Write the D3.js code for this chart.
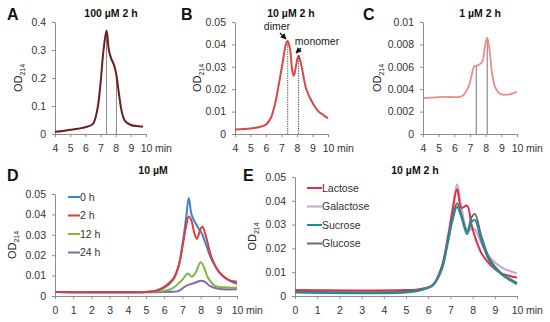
<!DOCTYPE html>
<html>
<head>
<meta charset="utf-8">
<script src="https://cdn.jsdelivr.net/npm/d3@7"></script>
<style>
  body { margin: 0; background: #fff; }
  svg { font-family: "Liberation Sans", Arial, sans-serif; }
  .axis path, .axis line { stroke: #8c8c8c; }
  .axis text { fill: #333; font-size: 10.5px; }
</style>
</head>
<body>
<div id="chart"></div>
<script>
// ---- data ----
var timeA = [4, 4.5, 5, 5.5, 6, 6.5, 6.8, 7.0, 7.2, 7.4, 7.55, 7.7, 7.9, 8.05, 8.2, 8.4, 8.6, 9.0, 9.5, 9.8];
var odA   = [0.008, 0.011, 0.015, 0.019, 0.024, 0.036, 0.09, 0.18, 0.30, 0.37, 0.30, 0.27, 0.245, 0.21, 0.15, 0.08, 0.048, 0.032, 0.028, 0.027];
var markA = [7.4, 8.05];

var timeB = [4, 5, 5.5, 6, 6.3, 6.6, 6.9, 7.1, 7.3, 7.4, 7.55, 7.7, 7.8, 7.95, 8.1, 8.3, 8.6, 9.0, 9.4, 9.7, 10];
var odB   = [0.002, 0.0025, 0.003, 0.0042, 0.007, 0.014, 0.025, 0.033, 0.0405, 0.0415, 0.038, 0.028, 0.026, 0.031, 0.035, 0.030, 0.020, 0.014, 0.010, 0.0085, 0.007];
var markB = [7.4, 8.1];

var timeC = [4, 5, 6, 6.3, 6.6, 6.9, 7.1, 7.25, 7.4, 7.6, 7.8, 7.95, 8.1, 8.25, 8.4, 8.6, 8.9, 9.3, 9.7, 10];
var odC   = [0.0032, 0.0033, 0.0033, 0.0033, 0.0035, 0.0042, 0.0052, 0.0060, 0.0061, 0.0062, 0.0065, 0.0078, 0.0086, 0.0075, 0.0055, 0.0042, 0.0036, 0.0035, 0.0036, 0.0038];
var markC = [7.4, 8.1];

var seriesD = ["0 h", "2 h", "12 h", "24 h"];
var timeD0  = [0, 5, 5.5, 6, 6.5, 6.8, 7.0, 7.2, 7.35, 7.5, 7.7, 7.9, 8.05, 8.3, 8.6, 9.0, 9.5, 10];
var odD0    = [0.002, 0.002, 0.0025, 0.004, 0.008, 0.015, 0.025, 0.038, 0.048, 0.040, 0.036, 0.033, 0.031, 0.025, 0.018, 0.012, 0.008, 0.007];
var timeD2  = [0, 5, 5.5, 6, 6.5, 6.8, 7.0, 7.2, 7.35, 7.5, 7.65, 7.8, 8.0, 8.1, 8.3, 8.6, 9.0, 9.5, 10];
var odD2    = [0.002, 0.002, 0.0025, 0.0045, 0.0085, 0.015, 0.024, 0.034, 0.039, 0.037, 0.031, 0.028, 0.033, 0.034, 0.029, 0.019, 0.012, 0.008, 0.006];
var timeD12 = [0, 5, 6, 6.5, 7.0, 7.3, 7.5, 7.7, 8.0, 8.15, 8.4, 8.8, 9.5, 10];
var odD12   = [0.002, 0.002, 0.0025, 0.004, 0.008, 0.011, 0.0095, 0.011, 0.0165, 0.015, 0.009, 0.005, 0.0042, 0.004];
var timeD24 = [0, 6, 6.8, 7.2, 7.6, 8.0, 8.2, 8.5, 9.0, 10];
var odD24   = [0.002, 0.002, 0.0025, 0.005, 0.0062, 0.0075, 0.0072, 0.005, 0.0035, 0.0033];

var seriesE = ["Lactose", "Galactose", "Sucrose", "Glucose"];
var timeE   = [0, 5, 5.7, 6.2, 6.6, 6.9, 7.1, 7.3, 7.5, 7.75, 7.95, 8.1, 8.4, 8.8, 9.3, 10];
var odLac   = [0.0025, 0.0025, 0.003, 0.0045, 0.012, 0.025, 0.036, 0.045, 0.037, 0.038, 0.030, 0.025, 0.018, 0.013, 0.0095, 0.0078];
var odGal   = [0.0022, 0.0022, 0.003, 0.0045, 0.012, 0.026, 0.037, 0.047, 0.037, 0.028, 0.028, 0.028, 0.022, 0.016, 0.012, 0.0095];
var odSuc   = [0.0015, 0.0015, 0.0025, 0.0045, 0.011, 0.023, 0.032, 0.0375, 0.033, 0.026, 0.031, 0.032, 0.023, 0.014, 0.009, 0.005];
var odGlu   = [0.0018, 0.0018, 0.0027, 0.0045, 0.011, 0.024, 0.033, 0.039, 0.034, 0.027, 0.033, 0.0345, 0.025, 0.015, 0.0095, 0.0055];

var svg = d3.select("#chart").append("svg")
    .attr("width", 550)
    .attr("height", 322);

function zip(xs, ys) {
    return xs.map(function (t, i) { return {t: t, v: ys[i]}; });
}

function panel(o) {
    var x = d3.scaleLinear().domain(o.xd).range(o.xr);
    var y = d3.scaleLinear().domain(o.yd).range(o.yr);

    var xa = svg.append("g").attr("class", "axis")
        .attr("transform", "translate(0," + o.yr[0] + ")")
        .call(d3.axisBottom(x).tickValues(d3.range(o.xd[0], o.xd[1] + 1))
            .tickFormat(d3.format("d")).tickSize(3).tickSizeOuter(0).tickPadding(8));
    xa.append("text").attr("x", o.xr[1] + 9).attr("y", 11).attr("dy", "0.71em")
        .attr("text-anchor", "start").text("min");

    svg.append("g").attr("class", "axis")
        .attr("transform", "translate(" + o.xr[0] + ",0)")
        .call(d3.axisLeft(y).tickValues(o.yt).tickFormat(d3.format("")).tickSize(3).tickSizeOuter(0).tickPadding(6));

    var yl = svg.append("text")
        .attr("transform", "translate(" + o.ylx + "," + ((o.yr[0] + o.yr[1]) / 2) + ") rotate(-90)")
        .attr("text-anchor", "middle")
        .style("font-size", "11px").style("fill", "#222");
    yl.append("tspan").text("OD");
    yl.append("tspan").attr("dy", 3).style("font-size", "7px").text("214");

    svg.append("text").attr("x", o.tx).attr("y", o.ty)
        .attr("text-anchor", "middle")
        .style("font-size", "10.5px").style("font-weight", 700).style("fill", "#111")
        .text(o.title);

    svg.append("text").attr("x", o.lx).attr("y", o.ly)
        .style("font-size", "16px").style("font-weight", 700).style("fill", "#111")
        .text(o.letter);

    return {x: x, y: y};
}

var line = function (sc) {
    return d3.line()
        .x(function (d) { return sc.x(d.t); })
        .y(function (d) { return sc.y(d.v); })
        .curve(d3.curveCatmullRom.alpha(0.5));
};

function markers(sc, ts, xs, ys, dash, color) {
    var pts = zip(xs, ys);
    svg.selectAll(null).data(ts).enter().append("line")
        .attr("x1", function (t) { return sc.x(t); })
        .attr("x2", function (t) { return sc.x(t); })
        .attr("y1", sc.y(0))
        .attr("y2", function (t) {
            var p = pts.find(function (d) { return Math.abs(d.t - t) < 1e-6; });
            return sc.y(p.v);
        })
        .attr("stroke", color).attr("stroke-width", 1)
        .attr("stroke-dasharray", dash);
}

// A
var sA = panel({xd: [4, 10], xr: [55, 146], yd: [0, 0.4], yr: [134, 22], yt: [0, 0.1, 0.2, 0.3, 0.4],
    ylx: 22, tx: 111, ty: 17, title: "100 µM 2 h", lx: 7, ly: 20, letter: "A"});
markers(sA, markA, timeA, odA, null, "#888");
svg.append("path").datum(zip(timeA, odA)).attr("d", line(sA))
    .attr("fill", "none").attr("stroke", "#6e1c1f").attr("stroke-width", 2);

// B
var sB = panel({xd: [4, 10], xr: [235, 328], yd: [0, 0.05], yr: [134, 22], yt: [0, 0.01, 0.02, 0.03, 0.04, 0.05],
    ylx: 201, tx: 291, ty: 17, title: "10 µM 2 h", lx: 181, ly: 20, letter: "B"});
svg.append("path").datum(zip(timeB, odB)).attr("d", line(sB))
    .attr("fill", "none").attr("stroke", "#d8474a").attr("stroke-width", 2);
markers(sB, markB, timeB, odB, "1.2,1.2", "#444");
svg.append("text").attr("x", 277).attr("y", 30).attr("text-anchor", "middle")
    .style("font-size", "10.5px").style("fill", "#222").text("dimer");
svg.append("text").attr("x", 317).attr("y", 45).attr("text-anchor", "middle")
    .style("font-size", "10.5px").style("fill", "#222").text("monomer");
svg.append("defs").append("marker").attr("id", "ah")
    .attr("viewBox", "0 0 10 10").attr("refX", 9).attr("refY", 5)
    .attr("markerWidth", 5).attr("markerHeight", 5).attr("orient", "auto")
    .append("path").attr("d", "M0,0L10,5L0,10z").attr("fill", "#111");
svg.append("line").attr("x1", 280).attr("y1", 33).attr("x2", 286).attr("y2", 39)
    .attr("stroke", "#111").attr("stroke-width", 1.2).attr("marker-end", "url(#ah)");
svg.append("line").attr("x1", 301).attr("y1", 48).attr("x2", 296).attr("y2", 53)
    .attr("stroke", "#111").attr("stroke-width", 1.2).attr("marker-end", "url(#ah)");

// C
var sC = panel({xd: [4, 10], xr: [423, 517], yd: [0, 0.01], yr: [134, 22], yt: [0, 0.002, 0.004, 0.006, 0.008, 0.01],
    ylx: 381, tx: 480, ty: 17, title: "1 µM 2 h", lx: 363, ly: 20, letter: "C"});
markers(sC, markC, timeC, odC, null, "#777");
svg.append("path").datum(zip(timeC, odC)).attr("d", line(sC))
    .attr("fill", "none").attr("stroke", "#ec8c8c").attr("stroke-width", 1.8);

// D
var sD = panel({xd: [0, 10], xr: [55, 237], yd: [0, 0.05], yr: [296, 194], yt: [0, 0.01, 0.02, 0.03, 0.04, 0.05],
    ylx: 16, tx: 153, ty: 174, title: "10 µM", lx: 7, ly: 181, letter: "D"});
var colD = ["#3b86c6", "#dc3b40", "#7fb543", "#8466a8"];
var dataD = [zip(timeD0, odD0), zip(timeD2, odD2), zip(timeD12, odD12), zip(timeD24, odD24)];
[3, 2, 0, 1].forEach(function (i) {
    svg.append("path").datum(dataD[i]).attr("d", line(sD))
        .attr("fill", "none").attr("stroke", colD[i]).attr("stroke-width", 2);
});
seriesD.forEach(function (s, i) {
    var yy = 197 + i * 18.5;
    svg.append("line").attr("x1", 68).attr("x2", 80).attr("y1", yy).attr("y2", yy)
        .attr("stroke", colD[i]).attr("stroke-width", 2);
    svg.append("text").attr("x", 80).attr("y", yy + 3.5)
        .style("font-size", "10.5px").style("fill", "#333").text(s);
});

// E
var sE = panel({xd: [0, 10], xr: [295, 517], yd: [0, 0.05], yr: [296, 177], yt: [0, 0.01, 0.02, 0.03, 0.04, 0.05],
    ylx: 256, tx: 415, ty: 174, title: "10 µM 2 h", lx: 243, ly: 181, letter: "E"});
var colE = ["#e0313d", "#c7a6d2", "#1f8d9e", "#6b6b6b"];
var dataE = [odLac, odGal, odSuc, odGlu];
[1, 0, 3, 2].forEach(function (i) {
    svg.append("path").datum(zip(timeE, dataE[i])).attr("d", line(sE))
        .attr("fill", "none").attr("stroke", colE[i]).attr("stroke-width", 2);
});
seriesE.forEach(function (s, i) {
    var yy = 188 + i * 18.5;
    svg.append("line").attr("x1", 307).attr("x2", 322).attr("y1", yy).attr("y2", yy)
        .attr("stroke", colE[i]).attr("stroke-width", 2);
    svg.append("text").attr("x", 322).attr("y", yy + 3.5)
        .style("font-size", "10.5px").style("fill", "#333").text(s);
});
</script>
</body>
</html>
